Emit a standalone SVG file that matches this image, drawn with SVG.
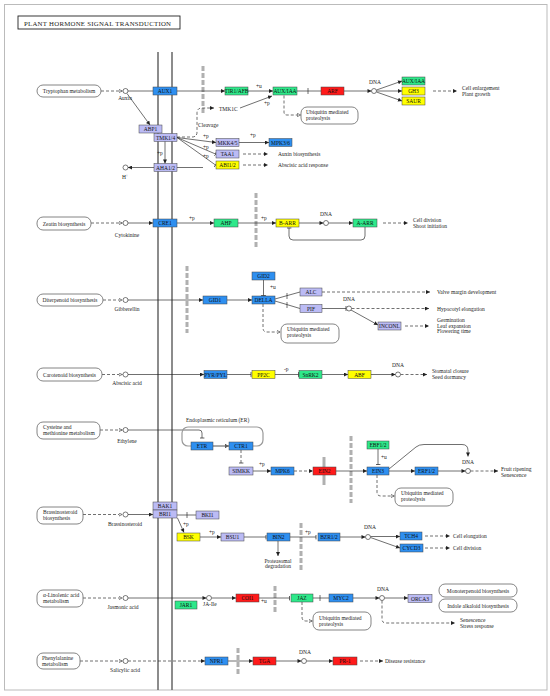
<svg xmlns="http://www.w3.org/2000/svg" width="550" height="696" viewBox="0 0 550 696">
<style>
text{font-family:"Liberation Serif",serif;font-size:5.5px;fill:#222}
.n{text-anchor:middle;fill:#111}
.m{text-anchor:middle}
rect.b{stroke:#444;stroke-width:0.5}
.bl{fill:#2e8ff0}.gr{fill:#2ee88a}.ye{fill:#ffff00}.rd{fill:#ff1a1a}.lv{fill:#bbbbf5}
.mb{fill:#fff;stroke:#666;stroke-width:0.8}
.c{fill:none;stroke:#222;stroke-width:0.65}
.d{fill:none;stroke:#222;stroke-width:0.65;stroke-dasharray:3,2}
.gb{stroke:#b0b0b0;stroke-width:3;stroke-dasharray:5,2}
.cp{fill:#fff;stroke:#222;stroke-width:0.6}
</style>
<defs>
<marker id="a" viewBox="0 0 6 6" refX="6" refY="3" markerWidth="4.5" markerHeight="4" orient="auto" markerUnits="userSpaceOnUse"><path d="M0,0L6,3L0,6z" fill="#222"/></marker>
<marker id="h" viewBox="0 0 6 6" refX="6" refY="3" markerWidth="4" markerHeight="4" orient="auto" markerUnits="userSpaceOnUse"><path d="M0.6,0.6L5.4,3L0.6,5.4z" fill="#fff" stroke="#222" stroke-width="0.8"/></marker>
<marker id="i" viewBox="0 -4 2 8" refX="1" refY="0" markerWidth="1.2" markerHeight="5" orient="auto" markerUnits="userSpaceOnUse"><path d="M1,-4V4" stroke="#222" stroke-width="1.2"/></marker>
</defs>
<rect x="4.5" y="4.5" width="542.5" height="685.5" fill="#fff" stroke="#bbb" stroke-width="1"/>
<g id="title"><rect x="18" y="16" width="162" height="13" fill="#fff" stroke="#222" stroke-width="0.9"/><text x="24" y="25.5" style="font-size:6.8px" textLength="147">PLANT  HORMONE  SIGNAL  TRANSDUCTION</text></g>
<g id="membrane"><line x1="158" y1="52" x2="158" y2="690" stroke="#666" stroke-width="1.5"/><line x1="172" y1="52" x2="172" y2="690" stroke="#666" stroke-width="1.5"/></g>
<g id="barriers">
<line class="gb" x1="203" y1="66" x2="203" y2="115"/>
<line class="gb" x1="256" y1="193" x2="256" y2="248"/>
<line class="gb" x1="187" y1="266" x2="187" y2="333"/>
<line class="gb" x1="351" y1="436" x2="351" y2="503"/>
<line stroke="#b0b0b0" stroke-width="3" x1="324" y1="457" x2="324" y2="485"/>
<line class="gb" x1="301" y1="523" x2="301" y2="570"/>
<line class="gb" x1="275" y1="586" x2="275" y2="612"/>
<line class="gb" x1="238" y1="648" x2="238" y2="675"/>
</g>
<g id="connectors">
<path class="d" d="M101,91H122.5" marker-end="url(#h)"/>
<path class="c" d="M128,91H225" marker-end="url(#a)"/>
<path class="c" d="M248,91H273" marker-end="url(#a)"/>
<path class="c" d="M297,91H321"/><path class="c" d="M308,88V94"/>
<path class="c" d="M344,91H371.5" marker-end="url(#a)"/>
<path class="c" d="M376.5,90L402,81" marker-end="url(#a)"/>
<path class="c" d="M376.5,91H402" marker-end="url(#a)"/>
<path class="c" d="M376.5,92L402,101" marker-end="url(#a)"/>
<path class="d" d="M433,91H457" marker-end="url(#a)"/>
<path class="d" d="M284,95.5V112Q284,115 287,115H301" marker-end="url(#h)"/>
<path class="c" d="M127,93.5L150,125" marker-end="url(#a)"/>
<path class="d" d="M177,137H192Q197,137 197,132V113Q197,108 202,108H214" marker-end="url(#a)"/>
<path class="c" d="M240,108L272,96" marker-end="url(#a)"/>
<path class="c" d="M177,137.5L216,142.5" marker-end="url(#a)"/>
<path class="c" d="M177,137.5L215.5,154" marker-end="url(#i)"/>
<path class="c" d="M177,137.5L215.5,165" marker-end="url(#i)"/>
<path class="c" d="M239,142.5H269" marker-end="url(#a)"/>
<path class="d" d="M243,154H268" marker-end="url(#a)"/>
<path class="d" d="M243,165H268" marker-end="url(#a)"/>
<path class="c" d="M165,141V163.5" marker-end="url(#a)"/>
<path class="c" d="M203,167.5H128" marker-end="url(#a)"/>
<path class="d" d="M91,223H122.5" marker-end="url(#h)"/>
<path class="c" d="M128,223H153" marker-end="url(#a)"/>
<path class="c" d="M177,223H214" marker-end="url(#a)"/>
<path class="c" d="M238,223H276" marker-end="url(#a)"/>
<path class="c" d="M299,223H323.5" marker-end="url(#a)"/>
<path class="c" d="M328.5,223H353" marker-end="url(#a)"/>
<path class="c" d="M365,227V236Q365,240 361,240H293Q289,240 289,236V228" marker-end="url(#i)"/>
<path class="d" d="M383,223H408" marker-end="url(#a)"/>
<path class="d" d="M103,300H122.5" marker-end="url(#h)"/>
<path class="c" d="M128,300H203" marker-end="url(#a)"/>
<path class="c" d="M227,300H252" marker-end="url(#a)"/>
<path class="c" d="M263.5,280V295.5" marker-end="url(#i)"/>
<path class="c" d="M275,299L300,292"/><path class="c" d="M287,293V299"/>
<path class="c" d="M275,301L300,308.5"/><path class="c" d="M287,302V308"/>
<path class="d" d="M322,292H430" marker-end="url(#a)"/>
<path class="c" d="M322,308.5H346" marker-end="url(#i)"/>
<path class="d" d="M351.5,308.5H429" marker-end="url(#a)"/>
<path class="c" d="M351,310L378,325" marker-end="url(#a)"/>
<path class="d" d="M405,326H429" marker-end="url(#a)"/>
<path class="d" d="M263,304V328Q263,332 267,332H280.5" marker-end="url(#h)"/>
<path class="d" d="M102,374.5H122.5" marker-end="url(#h)"/>
<path class="c" d="M128,374.5H204" marker-end="url(#a)"/>
<path class="c" d="M227,374.5H251" marker-end="url(#i)"/>
<path class="c" d="M275,374.5H298.5" marker-end="url(#i)"/>
<path class="c" d="M322,374.5H348" marker-end="url(#a)"/>
<path class="c" d="M371,374.5H395.5" marker-end="url(#a)"/>
<path class="d" d="M400.5,374.5H427" marker-end="url(#a)"/>
<path class="d" d="M100,430H122.5" marker-end="url(#h)"/>
<path class="c" d="M128,430H199Q202,430 202,433V438" marker-end="url(#i)"/>
<path class="c" d="M213,446H229" marker-end="url(#a)"/>
<path class="d" d="M241,450V463" marker-end="url(#i)"/>
<path class="c" d="M253,471H271" marker-end="url(#a)"/>
<path class="d" d="M294,471H313" marker-end="url(#a)"/>
<path class="c" d="M336,471H367" marker-end="url(#a)"/>
<path class="c" d="M378,449V464.5" marker-end="url(#i)"/>
<path class="c" d="M389,471H415" marker-end="url(#a)"/>
<path class="c" d="M438,471H465.5" marker-end="url(#a)"/>
<path class="c" d="M389,469L416,447Q419,444.5 424,444.5H462Q468,444.5 468,450.5V456.5" marker-end="url(#a)"/>
<path class="d" d="M470.5,471H498" marker-end="url(#a)"/>
<path class="d" d="M377,475V492Q377,496 381,496H394.5" marker-end="url(#h)"/>
<path class="d" d="M83,514.5H122.5" marker-end="url(#h)"/>
<path class="c" d="M128,514.5H153" marker-end="url(#a)"/>
<path class="c" d="M177,515H196"/><path class="c" d="M187,512V518"/>
<path class="c" d="M177.5,518L184,532.5" marker-end="url(#a)"/>
<path class="c" d="M200,537H221" marker-end="url(#a)"/>
<path class="c" d="M244,537H266" marker-end="url(#i)"/>
<path class="c" d="M278,541V556" marker-end="url(#a)"/>
<path class="c" d="M290,537H316" marker-end="url(#i)"/>
<path class="c" d="M340,537H365.5" marker-end="url(#a)"/>
<path class="c" d="M370.5,536.5H400" marker-end="url(#a)"/>
<path class="c" d="M370.5,537.5L400,548" marker-end="url(#a)"/>
<path class="d" d="M425,536H450" marker-end="url(#a)"/>
<path class="d" d="M425,548H450" marker-end="url(#a)"/>
<path class="d" d="M83,598H122.5" marker-end="url(#h)"/>
<path class="c" d="M128,598H206.5" marker-end="url(#a)"/>
<path class="c" d="M211.5,598H236" marker-end="url(#a)"/>
<path class="c" d="M259,598H289.5" marker-end="url(#i)"/>
<path class="c" d="M313,598H329"/><path class="c" d="M320,595V601"/>
<path class="c" d="M353,598H379.5" marker-end="url(#a)"/>
<path class="c" d="M384.5,598H408" marker-end="url(#a)"/>
<path class="d" d="M382,600.5V619Q382,623 386,623H455" marker-end="url(#a)"/>
<path class="d" d="M302,602V617Q302,621 306,621H312.5" marker-end="url(#h)"/>
<path class="d" d="M80,661H122.5" marker-end="url(#h)"/>
<path class="d" d="M128,661H205" marker-end="url(#a)"/>
<path class="c" d="M228,661H253" marker-end="url(#a)"/>
<path class="c" d="M276,661H301.5" marker-end="url(#a)"/>
<path class="c" d="M306.5,661H333" marker-end="url(#a)"/>
<path class="d" d="M360,661H383" marker-end="url(#a)"/>
</g>
<g id="compounds">
<circle class="cp" cx="125.5" cy="91" r="2.5"/><text class="m" x="125" y="100">Auxin</text>
<circle class="cp" cx="125.5" cy="167.5" r="2.5"/><text class="m" x="125" y="179">H<tspan dy="-2" style="font-size:4px">+</tspan></text>
<circle class="cp" cx="125.5" cy="223" r="2.5"/><text class="m" x="127" y="237">Cytokinine</text>
<circle class="cp" cx="125.5" cy="300" r="2.5"/><text class="m" x="127" y="311">Gibberellin</text>
<circle class="cp" cx="125.5" cy="374.5" r="2.5"/><text class="m" x="127" y="384.5">Abscisic acid</text>
<circle class="cp" cx="125.5" cy="430" r="2.5"/><text class="m" x="127" y="443">Ethylene</text>
<circle class="cp" cx="125.5" cy="514.5" r="2.5"/><text class="m" x="125" y="526">Brassinosteroid</text>
<circle class="cp" cx="125.5" cy="598" r="2.5"/><text class="m" x="123" y="609">Jasmonic acid</text>
<circle class="cp" cx="209" cy="598" r="2.5"/><text x="203" y="606">JA-Ile</text>
<circle class="cp" cx="125.5" cy="661" r="2.5"/><text class="m" x="125" y="671.5">Salicylic acid</text>
<circle class="cp" cx="374" cy="91" r="2.5"/><text class="m" x="375" y="84">DNA</text>
<circle class="cp" cx="326" cy="223" r="2.5"/><text class="m" x="326" y="216">DNA</text>
<circle class="cp" cx="349" cy="308.5" r="2.5"/><text class="m" x="349" y="301">DNA</text>
<circle class="cp" cx="398" cy="374.5" r="2.5"/><text class="m" x="398" y="367">DNA</text>
<circle class="cp" cx="468" cy="471" r="2.5"/><text class="m" x="468" y="464">DNA</text>
<circle class="cp" cx="368" cy="537" r="2.5"/><text class="m" x="370" y="529">DNA</text>
<circle class="cp" cx="382" cy="598" r="2.5"/><text class="m" x="383" y="590.5">DNA</text>
<circle class="cp" cx="304" cy="661" r="2.5"/><text class="m" x="305" y="653.5">DNA</text>
</g>
<g id="maps">
<g id="map-trp"><rect class="mb" x="37" y="85" width="64" height="12" rx="6"/><text class="m" x="69" y="93">Tryptophan metabolism</text></g>
<g id="map-zeatin"><rect class="mb" x="37" y="217" width="54" height="13" rx="6"/><text class="m" x="64" y="225.5">Zeatin biosynthesis</text></g>
<g id="map-diterp"><rect class="mb" x="37" y="294" width="66" height="12" rx="6"/><text class="m" x="70" y="302">Diterpenoid biosynthesis</text></g>
<g id="map-carot"><rect class="mb" x="37" y="368" width="65" height="13" rx="6"/><text class="m" x="69.5" y="376.5">Carotenoid biosynthesis</text></g>
<g id="map-cys"><rect class="mb" x="37" y="422" width="63" height="17" rx="6"/><text x="43" y="429">Cysteine and</text><text x="43" y="435">methionine metabolism</text></g>
<g id="map-brass"><rect class="mb" x="37" y="507" width="46" height="17" rx="6"/><text x="43" y="514">Brassinosteroid</text><text x="43" y="520">biosynthesis</text></g>
<g id="map-linolenic"><rect class="mb" x="37" y="590" width="46" height="17" rx="6"/><text x="43" y="597">α-Linolenic acid</text><text x="43" y="603">metabolism</text></g>
<g id="map-phe"><rect class="mb" x="37" y="653" width="43" height="16" rx="6"/><text x="42" y="659.5">Phenylalanine</text><text x="42" y="665.5">metabolism</text></g>
<g id="map-ubq1"><rect class="mb" x="301" y="107" width="57" height="17" rx="6"/><text x="306" y="114">Ubiquitin mediated</text><text x="306" y="120">proteolysis</text></g>
<g id="map-ubq2"><rect class="mb" x="281" y="324" width="58" height="19" rx="6"/><text x="287" y="331">Ubiquitin mediated</text><text x="287" y="337">proteolysis</text></g>
<g id="map-ubq3"><rect class="mb" x="395" y="488" width="58" height="18" rx="6"/><text x="401" y="495">Ubiquitin mediated</text><text x="401" y="501">proteolysis</text></g>
<g id="map-ubq4"><rect class="mb" x="313" y="612" width="58" height="18" rx="6"/><text x="319" y="620">Ubiquitin mediated</text><text x="319" y="626">proteolysis</text></g>
<g id="map-monoterp"><rect class="mb" x="439" y="584" width="78" height="13" rx="6"/><text class="m" x="478" y="592.5">Monoterpenoid biosynthesis</text></g>
<g id="map-indole"><rect class="mb" x="439" y="599" width="78" height="13" rx="6"/><text class="m" x="478" y="607.5">Indole alkaloid biosynthesis</text></g>
<g id="er"><rect x="182" y="427" width="81" height="19" rx="6" fill="none" stroke="#999" stroke-width="1.2"/><text x="186" y="421.5">Endoplasmic reticulum (ER)</text></g>
</g>
<g id="nodes">
<g id="AUX1"><rect class="b bl" x="153" y="87" width="24" height="8"/><text class="n" x="165" y="93">AUX1</text></g>
<g id="TIR1"><rect class="b gr" x="225" y="87" width="23" height="8"/><text class="n" x="236.5" y="93">TIR1/AFB</text></g>
<g id="AUXIAA"><rect class="b gr" x="273" y="87" width="24" height="8"/><text class="n" x="285" y="93">AUX/IAA</text></g>
<g id="ARF"><rect class="b rd" x="321" y="87" width="23" height="8"/><text class="n" x="332.5" y="93">ARF</text></g>
<g id="AUXIAA2"><rect class="b gr" x="402" y="77" width="23" height="8"/><text class="n" x="413.5" y="83">AUX/IAA</text></g>
<g id="GH3"><rect class="b ye" x="402" y="87" width="23" height="8"/><text class="n" x="413.5" y="93">GH3</text></g>
<g id="SAUR"><rect class="b ye" x="402" y="97" width="23" height="8"/><text class="n" x="413.5" y="103">SAUR</text></g>
<g id="ABP1"><rect class="b lv" x="139" y="125" width="23" height="8"/><text class="n" x="150.5" y="131">ABP1</text></g>
<g id="TMK14"><rect class="b lv" x="154" y="133.5" width="23" height="8"/><text class="n" x="165.5" y="139.5">TMK1/4</text></g>
<g id="MKK45"><rect class="b lv" x="216" y="138.5" width="23" height="8"/><text class="n" x="227.5" y="144.5">MKK4/5</text></g>
<g id="MPK36"><rect class="b bl" x="269" y="138.5" width="23" height="8"/><text class="n" x="280.5" y="144.5">MPK3/6</text></g>
<g id="TAA1"><rect class="b lv" x="216" y="150" width="23" height="8"/><text class="n" x="227.5" y="156">TAA1</text></g>
<g id="ABI12"><rect class="b ye" x="216" y="161" width="23" height="8"/><text class="n" x="227.5" y="167">ABI1/2</text></g>
<g id="AHA12"><rect class="b lv" x="154" y="163.5" width="23" height="8"/><text class="n" x="165.5" y="169.5">AHA1/2</text></g>
<g id="CRE1"><rect class="b bl" x="153" y="219" width="24" height="8"/><text class="n" x="165" y="225">CRE1</text></g>
<g id="AHP"><rect class="b gr" x="214" y="219" width="24" height="8"/><text class="n" x="226" y="225">AHP</text></g>
<g id="BARR"><rect class="b ye" x="276" y="219" width="23" height="8"/><text class="n" x="287.5" y="225">B-ARR</text></g>
<g id="AARR"><rect class="b gr" x="353" y="219" width="24" height="8"/><text class="n" x="365" y="225">A-ARR</text></g>
<g id="GID1"><rect class="b bl" x="203" y="296" width="24" height="8"/><text class="n" x="215" y="302">GID1</text></g>
<g id="GID2"><rect class="b bl" x="252" y="272" width="23" height="8"/><text class="n" x="263.5" y="278">GID2</text></g>
<g id="DELLA"><rect class="b bl" x="252" y="296" width="23" height="8"/><text class="n" x="263.5" y="302">DELLA</text></g>
<g id="ALC"><rect class="b lv" x="300" y="288" width="22" height="8"/><text class="n" x="311" y="294">ALC</text></g>
<g id="PIF"><rect class="b lv" x="300" y="304.5" width="22" height="8"/><text class="n" x="311" y="310.5">PIF</text></g>
<g id="INCONL"><rect class="b lv" x="378" y="322" width="23" height="8"/><text class="n" x="389.5" y="328">INCONL</text></g>
<g id="PYR"><rect class="b bl" x="204" y="370.5" width="23" height="8"/><text class="n" x="215.5" y="376.5">PYR/PYL</text></g>
<g id="PP2C"><rect class="b ye" x="252" y="370.5" width="23" height="8"/><text class="n" x="263.5" y="376.5">PP2C</text></g>
<g id="SnRK2"><rect class="b gr" x="299" y="370.5" width="23" height="8"/><text class="n" x="310.5" y="376.5">SnRK2</text></g>
<g id="ABF"><rect class="b ye" x="348" y="370.5" width="23" height="8"/><text class="n" x="359.5" y="376.5">ABF</text></g>
<g id="ETR"><rect class="b bl" x="191" y="442" width="22" height="8"/><text class="n" x="202" y="448">ETR</text></g>
<g id="CTR1"><rect class="b bl" x="229" y="442" width="24" height="8"/><text class="n" x="241" y="448">CTR1</text></g>
<g id="SIMKK"><rect class="b lv" x="229" y="467" width="24" height="8"/><text class="n" x="241" y="473">SIMKK</text></g>
<g id="MPK6"><rect class="b bl" x="271" y="467" width="23" height="8"/><text class="n" x="282.5" y="473">MPK6</text></g>
<g id="EIN2"><rect class="b rd" x="313" y="467" width="23" height="8"/><text class="n" x="324.5" y="473">EIN2</text></g>
<g id="EBF12"><rect class="b gr" x="367" y="441" width="22" height="8"/><text class="n" x="378" y="447">EBF1/2</text></g>
<g id="EIN3"><rect class="b bl" x="367" y="467" width="22" height="8"/><text class="n" x="378" y="473">EIN3</text></g>
<g id="ERF12"><rect class="b bl" x="415" y="467" width="23" height="8"/><text class="n" x="426.5" y="473">ERF1/2</text></g>
<g id="BAK1"><rect class="b lv" x="153" y="502" width="24" height="8"/><text class="n" x="165" y="508">BAK1</text></g>
<g id="BRI1"><rect class="b lv" x="153" y="510" width="24" height="8"/><text class="n" x="165" y="516">BRI1</text></g>
<g id="BKI1"><rect class="b lv" x="196" y="511" width="23" height="8"/><text class="n" x="207.5" y="517">BKI1</text></g>
<g id="BSK"><rect class="b ye" x="177" y="533" width="23" height="8"/><text class="n" x="188.5" y="539">BSK</text></g>
<g id="BSU1"><rect class="b lv" x="221" y="533" width="23" height="8"/><text class="n" x="232.5" y="539">BSU1</text></g>
<g id="BIN2"><rect class="b bl" x="267" y="533" width="23" height="8"/><text class="n" x="278.5" y="539">BIN2</text></g>
<g id="BZR12"><rect class="b bl" x="318" y="533" width="22" height="8"/><text class="n" x="329" y="539">BZR1/2</text></g>
<g id="TCH4"><rect class="b bl" x="400" y="532" width="22" height="8"/><text class="n" x="411" y="538">TCH4</text></g>
<g id="CYCD3"><rect class="b bl" x="400" y="544" width="23" height="8"/><text class="n" x="411.5" y="550">CYCD3</text></g>
<g id="JAR1"><rect class="b gr" x="175" y="601" width="22" height="8"/><text class="n" x="186" y="607">JAR1</text></g>
<g id="COI1"><rect class="b rd" x="236" y="594" width="23" height="8"/><text class="n" x="247.5" y="600">COI1</text></g>
<g id="JAZ"><rect class="b gr" x="291" y="594" width="22" height="8"/><text class="n" x="302" y="600">JAZ</text></g>
<g id="MYC2"><rect class="b bl" x="329" y="594" width="24" height="8"/><text class="n" x="341" y="600">MYC2</text></g>
<g id="ORCA3"><rect class="b lv" x="408" y="594.5" width="24" height="8"/><text class="n" x="420" y="600.5">ORCA3</text></g>
<g id="NPR1"><rect class="b bl" x="205" y="657" width="23" height="8"/><text class="n" x="216.5" y="663">NPR1</text></g>
<g id="TGA"><rect class="b rd" x="253" y="657" width="23" height="8"/><text class="n" x="264.5" y="663">TGA</text></g>
<g id="PR1"><rect class="b rd" x="333" y="657" width="24" height="8"/><text class="n" x="345" y="663">PR-1</text></g>
</g>
<g id="labels">
<text x="256" y="88">+u</text>
<text x="198" y="127">Cleavage</text>
<text x="219" y="110.5">TMK1C</text>
<text x="264" y="104.5">+p</text>
<text x="203" y="137.5">+p</text>
<text x="250" y="137">+p</text>
<text x="203" y="148.5">+p</text>
<text x="203" y="157.5">+p</text>
<text x="157" y="155">+p</text>
<text x="278" y="156">Auxin biosynthesis</text>
<text x="278" y="167">Abscisic acid response</text>
<text x="462" y="89.5">Cell enlargement</text>
<text x="462" y="95.5">Plant growth</text>
<text x="189" y="219.5">+p</text>
<text x="261" y="219.5">+p</text>
<text x="413" y="222">Cell division</text>
<text x="413" y="228">Shoot initiation</text>
<text x="270" y="288.5">+u</text>
<text x="437" y="294">Valve margin development</text>
<text x="437" y="310.5">Hypocotyl elongation</text>
<text x="437" y="322">Germination</text>
<text x="437" y="327.5">Leaf expansion</text>
<text x="437" y="333">Flowering time</text>
<text x="284" y="371">-p</text>
<text x="432" y="373">Stomatal closure</text>
<text x="432" y="378.5">Seed dormancy</text>
<text x="259" y="466">+p</text>
<text x="381" y="459">+u</text>
<text x="501" y="471">Fruit ripening</text>
<text x="501" y="476.5">Senescence</text>
<text x="183" y="525.5">+p</text>
<text x="209" y="534">+p</text>
<text x="305" y="534">+p</text>
<text class="m" x="278" y="562.5">Proteasomal</text>
<text class="m" x="278" y="568">degradation</text>
<text x="453" y="538">Cell elongation</text>
<text x="453" y="550">Cell division</text>
<text x="261" y="602.5">+u</text>
<text x="460" y="622">Senescence</text>
<text x="460" y="627.5">Stress response</text>
<text x="385" y="663">Disease resistance</text>
</g>
</svg>
